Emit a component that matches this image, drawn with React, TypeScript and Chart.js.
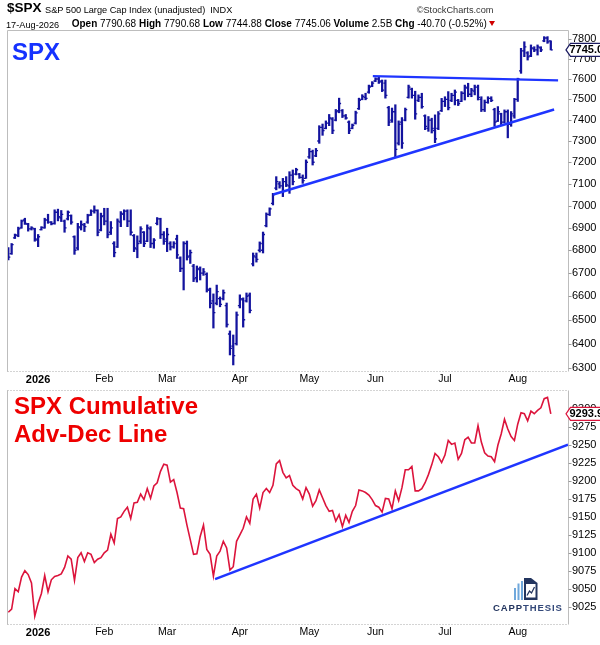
import React, { useEffect, useRef } from "react";
import { Chart, registerables } from "chart.js";

Chart.register(...registerables);

// ---------- data ----------
const FIRST_INDEX = -9; // trading-day index of first bar (late Dec 2025)
const monthTicks = [0, 20, 39, 61, 82, 102, 123, 145];
const monthLabels = ["2026", "Feb", "Mar", "Apr", "May", "Jun", "Jul", "Aug"];
const priceTicks = [6300, 6400, 6500, 6600, 6700, 6800, 6900, 7000, 7100, 7200, 7300, 7400, 7500, 7600, 7700, 7800];
const adTicks = [9025, 9050, 9075, 9100, 9125, 9150, 9175, 9200, 9225, 9250, 9275, 9300];

const opens = [
  6800, 6785, 6855, 6865, 6900, 6935, 6915, 6895, 6895,
  6845, 6892, 6900, 6935, 6925, 6920, 6970, 6945, 6930, 6940,
  6955, 6860, 6810, 6900, 6912, 6925, 6958, 6975, 6978, 6890,
  6955, 6930, 6880, 6830, 6815, 6925, 6960, 6975, 6930, 6865,
  6805, 6840, 6880, 6840, 6895, 6830, 6920, 6940, 6870, 6850,
  6830, 6815, 6850, 6765, 6720, 6830, 6775, 6730, 6680, 6715,
  6700, 6695, 6625, 6580, 6570, 6590, 6590, 6560, 6440, 6390,
  6400, 6560, 6585, 6580, 6605, 6740, 6770, 6800, 6800, 6910,
  6960, 7010, 7080, 7100, 7090, 7110, 7090, 7140, 7145, 7145,
  7130, 7125, 7225, 7250, 7230, 7300, 7365, 7360, 7385, 7405,
  7400, 7445, 7445, 7420, 7390, 7360, 7385, 7455, 7500, 7510,
  7535, 7565, 7590, 7600, 7590, 7580, 7460, 7400, 7440, 7290,
  7390, 7400, 7510, 7550, 7520, 7495, 7510, 7420, 7360, 7400,
  7350, 7360, 7445, 7490, 7500, 7495, 7520, 7495, 7490, 7530,
  7555, 7525, 7540, 7560, 7500, 7450, 7485, 7505, 7450, 7395,
  7430, 7390, 7440, 7380, 7420, 7500, 7640, 7740, 7730, 7715,
  7750, 7745, 7755, 7790, 7805, 7790.68,
];
const highs = [
  6812, 6830, 6872, 6903, 6935, 6943, 6920, 6905, 6898,
  6870, 6905, 6943, 6961, 6928, 6981, 6984, 6978, 6935, 6976,
  6958, 6864, 6920, 6931, 6920, 6961, 6981, 6999, 6981, 6966,
  6988, 6988, 6928, 6838, 6940, 6973, 6981, 6981, 6981, 6870,
  6864, 6905, 6883, 6913, 6905, 6852, 6946, 6943, 6883, 6898,
  6838, 6838, 6867, 6771, 6838, 6841, 6801, 6738, 6731, 6727,
  6720, 6701, 6635, 6610, 6648, 6597, 6627, 6571, 6453, 6436,
  6533, 6606, 6593, 6614, 6614, 6788, 6788, 6837, 6881, 6967,
  6990, 7056, 7133, 7110, 7125, 7133, 7156, 7164, 7172, 7148,
  7141, 7211, 7265, 7257, 7265, 7373, 7381, 7396, 7427, 7412,
  7451, 7506, 7451, 7427, 7396, 7381, 7443, 7506, 7523, 7530,
  7570, 7587, 7606, 7611, 7595, 7595, 7466, 7458, 7474, 7396,
  7412, 7458, 7570, 7555, 7540, 7522, 7530, 7425, 7417, 7409,
  7425, 7441, 7505, 7513, 7538, 7530, 7546, 7500, 7538, 7570,
  7579, 7554, 7570, 7570, 7513, 7497, 7513, 7513, 7457, 7465,
  7433, 7449, 7449, 7441, 7505, 7604, 7753, 7786, 7736, 7770,
  7761, 7770, 7761, 7812, 7812, 7790.68,
];
const lows = [
  6757, 6782, 6852, 6860, 6898, 6915, 6885, 6890, 6840,
  6816, 6890, 6898, 6920, 6913, 6916, 6931, 6928, 6880, 6935,
  6916, 6782, 6801, 6890, 6883, 6920, 6955, 6966, 6864, 6886,
  6913, 6855, 6870, 6771, 6812, 6905, 6935, 6905, 6867, 6794,
  6767, 6830, 6816, 6838, 6812, 6809, 6913, 6852, 6826, 6794,
  6801, 6809, 6764, 6706, 6627, 6757, 6742, 6663, 6661, 6670,
  6690, 6618, 6550, 6465, 6563, 6555, 6584, 6469, 6353, 6312,
  6394, 6550, 6469, 6575, 6529, 6731, 6748, 6792, 6788, 6904,
  6955, 7003, 7072, 7080, 7041, 7087, 7056, 7095, 7141, 7125,
  7102, 7125, 7218, 7187, 7226, 7289, 7327, 7358, 7373, 7335,
  7396, 7435, 7412, 7404, 7335, 7358, 7381, 7451, 7498, 7498,
  7530, 7562, 7587, 7578, 7538, 7506, 7373, 7389, 7226, 7281,
  7265, 7396, 7506, 7506, 7404, 7489, 7457, 7354, 7346, 7338,
  7292, 7354, 7441, 7465, 7449, 7489, 7473, 7470, 7489, 7497,
  7513, 7513, 7522, 7497, 7441, 7441, 7481, 7489, 7370, 7393,
  7378, 7386, 7315, 7370, 7409, 7490, 7628, 7711, 7694, 7711,
  7736, 7719, 7736, 7786, 7778, 7744.88,
];
const closes = [
  6770, 6825, 6868, 6895, 6930, 6920, 6895, 6900, 6850,
  6860, 6902, 6935, 6925, 6918, 6970, 6950, 6960, 6900, 6970,
  6925, 6800, 6905, 6915, 6905, 6955, 6975, 6980, 6880, 6950,
  6930, 6870, 6900, 6790, 6930, 6965, 6975, 6930, 6880, 6810,
  6830, 6895, 6830, 6900, 6830, 6845, 6940, 6870, 6840, 6870,
  6815, 6830, 6780, 6720, 6830, 6770, 6790, 6675, 6720, 6700,
  6705, 6630, 6570, 6530, 6620, 6565, 6615, 6480, 6380, 6350,
  6520, 6590, 6500, 6600, 6540, 6775, 6760, 6830, 6870, 6960,
  6985, 7050, 7110, 7090, 7110, 7095, 7140, 7110, 7165, 7130,
  7115, 7200, 7250, 7200, 7255, 7365, 7350, 7385, 7410, 7350,
  7440, 7480, 7420, 7410, 7350, 7375, 7435, 7495, 7515, 7505,
  7560, 7580, 7600, 7585, 7545, 7520, 7390, 7440, 7260, 7380,
  7290, 7450, 7560, 7520, 7430, 7510, 7465, 7370, 7400, 7360,
  7310, 7430, 7490, 7500, 7460, 7520, 7535, 7480, 7530, 7560,
  7525, 7545, 7560, 7510, 7450, 7485, 7505, 7495, 7390, 7440,
  7390, 7440, 7380, 7430, 7500, 7600, 7740, 7760, 7710, 7755,
  7745, 7760, 7745, 7805, 7785.76, 7745.06,
];
const adLine = [
  9017.8, 9022.3, 9050.8, 9046.3, 9066.7, 9075.7, 9070.3, 9058.5, 9012.3,
  9030.4, 9044.0, 9068.9, 9046.3, 9063.0, 9067.6, 9068.9, 9071.2, 9080.3, 9096.1,
  9091.6, 9062.1, 9093.8, 9100.6, 9088.4, 9100.6, 9098.4, 9087.0, 9091.6, 9093.8,
  9100.6, 9104.3, 9126.4, 9114.2, 9148.2, 9150.5, 9158.2, 9164.0, 9148.2, 9170.0,
  9170.8, 9182.2, 9174.5, 9189.9, 9176.3, 9193.5, 9198.0, 9213.9, 9223.8, 9222.5,
  9198.9, 9202.5, 9184.4, 9162.7, 9161.8, 9139.1, 9118.8, 9098.4, 9099.3, 9123.3,
  9139.1, 9105.2, 9098.4, 9068.0, 9096.1, 9102.9, 9116.5, 9107.4, 9076.6, 9081.2,
  9116.5, 9125.5, 9134.6, 9150.5, 9141.4, 9175.4, 9182.2, 9162.7, 9184.4, 9189.9,
  9184.4, 9194.4, 9224.3, 9228.8, 9212.5, 9204.8, 9208.0, 9194.4, 9189.9, 9186.7,
  9175.4, 9191.2, 9182.2, 9165.4, 9173.1, 9188.0, 9177.2, 9166.3, 9158.2, 9159.5,
  9144.6, 9153.6, 9136.9, 9152.7, 9142.8, 9158.2, 9166.3, 9188.0, 9186.7, 9184.4,
  9180.8, 9174.5, 9166.3, 9164.0, 9157.2, 9176.3, 9175.4, 9161.8, 9186.7, 9173.1,
  9191.2, 9216.1, 9216.1, 9220.7, 9186.7, 9186.7, 9189.9, 9198.0, 9209.3, 9222.9,
  9238.8, 9234.2, 9226.1, 9236.5, 9256.9, 9251.4, 9253.3, 9230.6, 9238.8, 9257.8,
  9261.4, 9253.3, 9253.3, 9277.3, 9254.6, 9239.7, 9235.1, 9234.2, 9227.4, 9250.1,
  9265.9, 9286.3, 9272.7, 9262.3, 9256.9, 9279.5, 9295.4, 9294.0, 9284.1, 9297.6,
  9294.0, 9298.6, 9302.2, 9314.9, 9316.7, 9293.9,
];

// trend lines (trading-day index, value)
const resistanceX = [101.2, 157.2];
const resistanceY = [7614, 7593];
const supportX = [71.1, 156.0];
const supportY = [7051, 7451];
const adSupportX = [53.5, 160.2];
const adSupportY = [9064, 9251];

const VOLUME_TEXT = "2.5B";
const DATE_TEXT = "17-Aug-2026";

// ---------- styles ----------
const FONT = "'Liberation Sans', Arial, Helvetica, sans-serif";
const NAVY = "#13139e";
const TREND = "#1f35ff";
const AD_RED = "#dc143c";
const FRAME = "#bdbdbd";
const X_MIN = -9.1;
const X_MAX = 160.2;

Chart.defaults.font.family = FONT;

const barX = closes.map((_, k) => k + FIRST_INDEX);

function drawFrame(ctx: CanvasRenderingContext2D, area: any, dottedTop: boolean, yScale: any, ticks: number[]) {
  ctx.save();
  ctx.lineWidth = 1;
  ctx.strokeStyle = FRAME;
  const l = Math.round(area.left) - 0.5;
  const r = Math.round(area.right) + 0.5;
  const t = Math.round(area.top) - 0.5;
  const b = Math.round(area.bottom) + 0.5;
  ctx.beginPath();
  ctx.moveTo(l, t);
  ctx.lineTo(l, b);
  ctx.moveTo(r, t);
  ctx.lineTo(r, b);
  if (!dottedTop) {
    ctx.moveTo(l, t);
    ctx.lineTo(r, t);
  }
  ctx.stroke();
  ctx.setLineDash([1, 2]);
  ctx.strokeStyle = "#a8a8a8";
  ctx.beginPath();
  ctx.moveTo(l, b);
  ctx.lineTo(r, b);
  if (dottedTop) {
    ctx.moveTo(l, t);
    ctx.lineTo(r, t);
  }
  ctx.stroke();
  ctx.setLineDash([]);
  ctx.strokeStyle = "#9a9a9a";
  ctx.beginPath();
  for (const v of ticks) {
    const py = Math.round(yScale.getPixelForValue(v)) + 0.5;
    ctx.moveTo(r, py);
    ctx.lineTo(r + 3, py);
  }
  ctx.stroke();
  ctx.restore();
}

function drawTag(ctx: CanvasRenderingContext2D, x: number, y: number, text: string, color: string) {
  ctx.save();
  ctx.beginPath();
  ctx.moveTo(x, y);
  ctx.lineTo(x + 4.5, y - 6.5);
  ctx.lineTo(x + 60, y - 6.5);
  ctx.lineTo(x + 60, y + 6.5);
  ctx.lineTo(x + 4.5, y + 6.5);
  ctx.closePath();
  ctx.fillStyle = "#ffffff";
  ctx.fill();
  ctx.lineWidth = 1.2;
  ctx.strokeStyle = color;
  ctx.stroke();
  ctx.fillStyle = "#000";
  ctx.font = `bold 11px ${FONT}`;
  ctx.textBaseline = "middle";
  ctx.textAlign = "left";
  ctx.fillText(text, x + 3.5, y + 0.5);
  ctx.restore();
}

const monthTickFont = (c: any) => {
  const bold = c && c.tick && c.tick.value === 0;
  return { family: FONT, size: bold ? 11 : 10.5, weight: bold ? "bold" : "normal" };
};

function xScaleOptions(height: number) {
  return {
    type: "linear" as const,
    min: X_MIN,
    max: X_MAX,
    offset: false,
    grid: { display: false, drawTicks: false },
    border: { display: false },
    afterBuildTicks: (s: any) => {
      s.ticks = monthTicks.map((v) => ({ value: v }));
    },
    afterFit: (s: any) => {
      s.height = height;
    },
    ticks: {
      autoSkip: false,
      maxRotation: 0,
      minRotation: 0,
      padding: 2,
      color: "#000",
      font: monthTickFont,
      callback: (v: any) => {
        const k = monthTicks.indexOf(Number(v));
        return k >= 0 ? monthLabels[k] : "";
      },
    },
  };
}

function PriceChart() {
  const ref = useRef<HTMLCanvasElement>(null);
  useEffect(() => {
    if (!ref.current) return;
    const ohlcTicks = {
      id: "ohlcTicks",
      afterDatasetDraw(chart: any, args: any) {
        if (args.index !== 0) return;
        const { ctx, chartArea } = chart;
        const x = chart.scales.x;
        const y = chart.scales.y;
        ctx.save();
        ctx.beginPath();
        ctx.rect(chartArea.left, chartArea.top, chartArea.width, chartArea.height);
        ctx.clip();
        ctx.strokeStyle = NAVY;
        ctx.lineWidth = 1.3;
        ctx.beginPath();
        for (let k = 0; k < closes.length; k++) {
          const px = x.getPixelForValue(barX[k]);
          const yo = y.getPixelForValue(opens[k]);
          const yc = y.getPixelForValue(closes[k]);
          ctx.moveTo(px - 2, yo);
          ctx.lineTo(px, yo);
          ctx.moveTo(px, yc);
          ctx.lineTo(px + 2, yc);
        }
        ctx.stroke();
        ctx.restore();
      },
    };
    const frame = {
      id: "frame",
      afterDraw(chart: any) {
        drawFrame(chart.ctx, chart.chartArea, false, chart.scales.y, priceTicks);
        const last = closes[closes.length - 1];
        drawTag(chart.ctx, 566, chart.scales.y.getPixelForValue(last), last.toFixed(2), "#1a1a60");
      },
    };
    const chart = new Chart(ref.current, {
      type: "bar",
      data: {
        datasets: [
          {
            type: "bar",
            data: barX.map((x, k) => ({ x, y: [lows[k], highs[k]] })) as any,
            backgroundColor: NAVY,
            borderWidth: 0,
            barThickness: 1.6,
            order: 2,
          } as any,
          {
            type: "line",
            data: resistanceX.map((x, k) => ({ x, y: resistanceY[k] })),
            borderColor: TREND,
            borderWidth: 2.3,
            pointRadius: 0,
            order: 1,
          } as any,
          {
            type: "line",
            data: supportX.map((x, k) => ({ x, y: supportY[k] })),
            borderColor: TREND,
            borderWidth: 2.5,
            pointRadius: 0,
            order: 1,
          } as any,
        ],
      },
      options: {
        responsive: false,
        animation: false,
        events: [],
        layout: { padding: { left: 8, top: 31, right: 0, bottom: 0 } },
        plugins: { legend: { display: false }, tooltip: { enabled: false } },
        scales: {
          x: xScaleOptions(14) as any,
          y: {
            type: "logarithmic",
            position: "right",
            min: 6287.2,
            max: 7840.6,
            grid: { display: false, drawTicks: false },
            border: { display: false },
            afterBuildTicks: (s: any) => {
              s.ticks = priceTicks.map((v) => ({ value: v }));
            },
            afterFit: (s: any) => {
              s.width = 32;
            },
            ticks: {
              padding: 4,
              color: "#000",
              font: { size: 11, family: FONT },
              callback: (v: any) => String(v),
            },
          } as any,
        },
      },
      plugins: [ohlcTicks, frame],
    });
    return () => chart.destroy();
  }, []);
  return <canvas ref={ref} width={600} height={385} style={{ position: "absolute", left: 0, top: 0, display: "block" }} />;
}

function AdChart() {
  const ref = useRef<HTMLCanvasElement>(null);
  useEffect(() => {
    if (!ref.current) return;
    const frame = {
      id: "frameAd",
      afterDraw(chart: any) {
        const ctx = chart.ctx;
        drawFrame(ctx, chart.chartArea, true, chart.scales.y, adTicks);
        const last = adLine[adLine.length - 1];
        drawTag(ctx, 566, chart.scales.y.getPixelForValue(last), last.toFixed(2), AD_RED);
        // CAPPTHESIS logo (page coords minus canvas top 380)
        const oy = -380;
        ctx.save();
        ctx.fillStyle = "#6fa8dc";
        ctx.fillRect(514, 588 + oy, 2, 12);
        ctx.fillRect(517.5, 583.5 + oy, 2, 16.5);
        ctx.fillRect(521, 581 + oy, 2, 19);
        ctx.fillStyle = "#23355f";
        ctx.beginPath();
        ctx.moveTo(524, 578 + oy);
        ctx.lineTo(531, 578 + oy);
        ctx.lineTo(537.5, 583 + oy);
        ctx.lineTo(537.5, 600 + oy);
        ctx.lineTo(524, 600 + oy);
        ctx.closePath();
        ctx.fill();
        ctx.fillStyle = "#ffffff";
        ctx.fillRect(526, 584 + oy, 9.5, 13.5);
        ctx.strokeStyle = "#23355f";
        ctx.lineWidth = 1.3;
        ctx.beginPath();
        ctx.moveTo(527, 595.5 + oy);
        ctx.lineTo(529.5, 591 + oy);
        ctx.lineTo(531.5, 593 + oy);
        ctx.lineTo(534.5, 587 + oy);
        ctx.stroke();
        ctx.font = `bold 9.5px ${FONT}`;
        ctx.textBaseline = "alphabetic";
        const word = "CAPPTHESIS";
        let cx = 493;
        for (let k = 0; k < word.length; k++) {
          ctx.fillStyle = k < 4 ? "#23355f" : "#34497a";
          ctx.fillText(word[k], cx, 611 + oy);
          cx += ctx.measureText(word[k]).width + 0.9;
        }
        ctx.restore();
      },
    };
    const chart = new Chart(ref.current, {
      type: "line",
      data: {
        datasets: [
          {
            data: adSupportX.map((x, k) => ({ x, y: adSupportY[k] })),
            borderColor: TREND,
            borderWidth: 2.5,
            pointRadius: 0,
            order: 1,
          },
          {
            data: barX.map((x, k) => ({ x, y: adLine[k] })),
            borderColor: AD_RED,
            borderWidth: 1.6,
            pointRadius: 0,
            tension: 0,
            order: 2,
          },
        ],
      },
      options: {
        responsive: false,
        animation: false,
        events: [],
        layout: { padding: { left: 8, top: 5, right: 0, bottom: 0 } },
        plugins: { legend: { display: false }, tooltip: { enabled: false } },
        scales: {
          x: xScaleOptions(21) as any,
          y: {
            type: "linear",
            position: "right",
            min: 9001.5,
            max: 9326.2,
            grid: { display: false, drawTicks: false },
            border: { display: false },
            afterBuildTicks: (s: any) => {
              s.ticks = adTicks.map((v) => ({ value: v }));
            },
            afterFit: (s: any) => {
              s.width = 32;
            },
            ticks: {
              padding: 4,
              color: "#000",
              font: { size: 11, family: FONT },
              callback: (v: any) => String(v),
            },
          } as any,
        },
      },
      plugins: [frame],
    });
    return () => chart.destroy();
  }, []);
  return <canvas ref={ref} width={600} height={265} style={{ position: "absolute", left: 0, top: 380, display: "block" }} />;
}

const abs = (left: number, top: number, extra: any = {}) => ({
  position: "absolute" as const,
  left,
  top,
  whiteSpace: "nowrap" as const,
  fontFamily: FONT,
  ...extra,
});

export default function App() {
  const n = closes.length;
  const last = closes[n - 1];
  const prev = closes[n - 2];
  const chg = last - prev;
  const pct = (chg / prev) * 100;
  return (
    <div style={{ position: "absolute", left: 0, top: 0, width: 600, height: 645, background: "#fff", overflow: "hidden" }}>
      <PriceChart />
      <AdChart />
      <div style={abs(7, 1, { fontSize: 13.5, fontWeight: "bold", lineHeight: "14px", color: "#000" })}>$SPX</div>
      <div style={abs(45, 3.5, { fontSize: 9.2, lineHeight: "12px", color: "#000" })}>
        S&amp;P 500 Large Cap Index (unadjusted)&nbsp;&nbsp;INDX
      </div>
      <div style={abs(416.7, 4, { fontSize: 9.2, lineHeight: "12px", color: "#333" })}>©StockCharts.com</div>
      <div style={abs(6, 18.5, { fontSize: 9.2, lineHeight: "12px", color: "#000" })}>{DATE_TEXT}</div>
      <div style={abs(71.7, 18, { fontSize: 10, lineHeight: "12px", color: "#000" })}>
        <b>Open</b> {opens[n - 1].toFixed(2)} <b>High</b> {highs[n - 1].toFixed(2)} <b>Low</b> {lows[n - 1].toFixed(2)}{" "}
        <b>Close</b> {last.toFixed(2)} <b>Volume</b> {VOLUME_TEXT} <b>Chg</b> {chg.toFixed(2)} ({pct.toFixed(2)}%)
        <span
          style={{
            display: "inline-block",
            marginLeft: 2,
            width: 0,
            height: 0,
            verticalAlign: "1px",
            borderLeft: "3px solid transparent",
            borderRight: "3px solid transparent",
            borderTop: "5px solid #d00000",
          }}
        />
      </div>
      <div style={abs(12, 40, { fontSize: 24, fontWeight: "bold", lineHeight: "24px", color: "#1532ff" })}>SPX</div>
      <div style={abs(14, 394, { fontSize: 24, fontWeight: "bold", lineHeight: "24px", color: "#ee0000" })}>SPX Cumulative</div>
      <div style={abs(14, 422, { fontSize: 24, fontWeight: "bold", lineHeight: "24px", color: "#ee0000" })}>Adv-Dec Line</div>
    </div>
  );
}
